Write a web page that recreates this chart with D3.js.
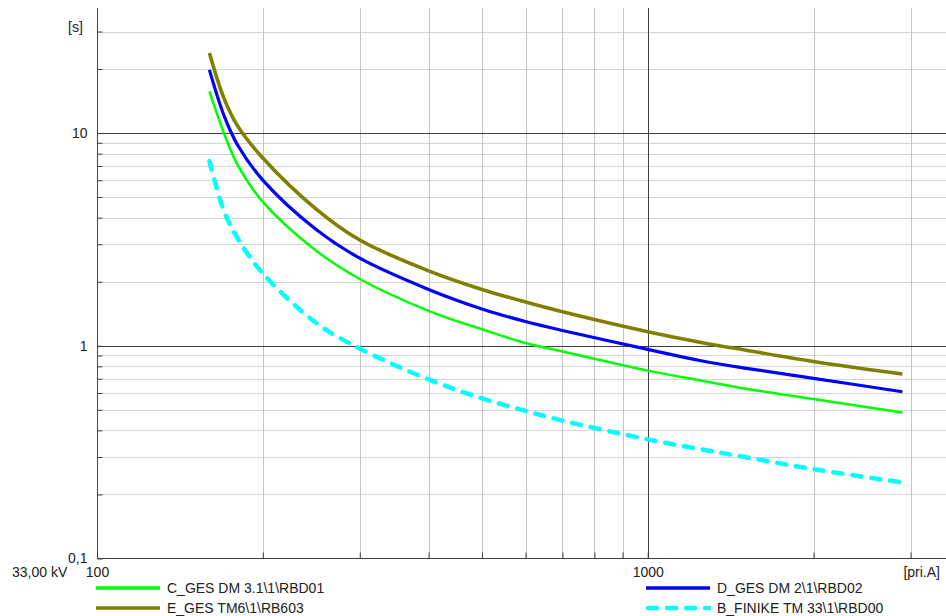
<!DOCTYPE html>
<html>
<head>
<meta charset="utf-8">
<script src="https://cdn.jsdelivr.net/npm/d3@7"></script>
<style>
  body { margin: 0; background: #fff; }
  text { font-family: "Liberation Sans", Arial, sans-serif; font-size: 14px; fill: #222; }
</style>
</head>
<body>
<svg id="chart" width="946" height="616"></svg>
<script>
// Current values [pri.A] where curves were read
const currents = [160, 170, 180, 200, 250, 300, 400, 500, 600, 700, 1000, 1250, 1500, 2000, 2900];

// Trip times [s] per relay
const timesC = [15.7, 10.0, 7.08, 4.75, 2.80, 2.06, 1.46, 1.195, 1.03, 0.94, 0.764, 0.686, 0.63, 0.562, 0.486];
const timesD = [19.8, 12.1, 8.78, 6.01, 3.52, 2.58, 1.84, 1.49, 1.30, 1.18, 0.962, 0.85, 0.785, 0.703, 0.608];
const timesE = [23.8, 14.6, 10.8, 7.63, 4.39, 3.14, 2.25, 1.84, 1.605, 1.445, 1.164, 1.036, 0.955, 0.844, 0.736];
const timesB = [7.38, 4.3, 3.2, 2.19, 1.28, 0.97, 0.695, 0.566, 0.494, 0.445, 0.363, 0.326, 0.300, 0.263, 0.228];

const seriesNames = ["C_GES DM 3.1\\1\\RBD01", "D_GES DM 2\\1\\RBD02", "E_GES TM6\\1\\RB603", "B_FINIKE TM 33\\1\\RBD00"];

// Grid / tick values
const xMinor = [200, 300, 400, 500, 600, 700, 800, 900, 2000, 3000];
const xMajor = [1000];
const xLabels = [100, 1000];
const yMinor = [0.2, 0.3, 0.4, 0.5, 0.6, 0.7, 0.8, 0.9, 2, 3, 4, 5, 6, 7, 8, 9, 20, 30];
const yMajor = [1, 10];
const yLabels = [0.1, 1, 10];

const series = [
  { name: seriesNames[0], values: timesC, color: "#00ff00", width: 2.5, dash: null },
  { name: seriesNames[1], values: timesD, color: "#0000ff", width: 3.2, dash: null },
  { name: seriesNames[2], values: timesE, color: "#808000", width: 3.6, dash: null },
  { name: seriesNames[3], values: timesB, color: "#00ffff", width: 4.5, dash: "9,10" }
];

// Plot area edges
const plot = { left: 97, right: 946, top: 8, bottom: 558.5 };

const x = d3.scaleLog().domain([100, 3480]).range([plot.left, plot.right]);
const y = d3.scaleLog().domain([0.1, 38.7]).range([plot.bottom, plot.top]);

const svg = d3.select("#chart");

// Minor gridlines
svg.append("g").selectAll("line").data(yMinor).join("line")
  .attr("x1", plot.left).attr("x2", plot.right)
  .attr("y1", d => Math.round(y(d)) + 0.5).attr("y2", d => Math.round(y(d)) + 0.5)
  .attr("stroke", "#d4d4d4");

svg.append("g").selectAll("line").data(xMinor).join("line")
  .attr("x1", d => Math.round(x(d)) + 0.5).attr("x2", d => Math.round(x(d)) + 0.5)
  .attr("y1", plot.top).attr("y2", plot.bottom)
  .attr("stroke", "#c4c4c4");

// Major gridlines
svg.append("g").selectAll("line").data(yMajor).join("line")
  .attr("x1", plot.left).attr("x2", plot.right)
  .attr("y1", d => Math.round(y(d)) + 0.5).attr("y2", d => Math.round(y(d)) + 0.5)
  .attr("stroke", "#404040");

svg.append("g").selectAll("line").data(xMajor).join("line")
  .attr("x1", d => Math.round(x(d)) + 0.5).attr("x2", d => Math.round(x(d)) + 0.5)
  .attr("y1", plot.top).attr("y2", plot.bottom)
  .attr("stroke", "#404040");

// Axes with inward ticks
const fmt = d => String(d).replace(".", ",");

const yAxis = svg.append("g")
  .attr("transform", `translate(${plot.left + 0.5},0)`)
  .call(d3.axisLeft(y).tickValues(yMinor.concat(yMajor, [0.1])).tickSize(-5).tickPadding(10)
    .tickFormat(d => yLabels.includes(d) ? fmt(d) : ""));
yAxis.select(".domain").attr("stroke", "#404040").attr("d", `M0,${plot.top}V${plot.bottom}`);
yAxis.selectAll(".tick line").attr("stroke", "#404040");
yAxis.selectAll("text").style("font-size", "14px").attr("fill", "#222");

const xAxis = svg.append("g")
  .attr("transform", `translate(0,${plot.bottom})`)
  .call(d3.axisBottom(x).tickValues(xMinor.concat(xMajor, [100])).tickSize(-6).tickPadding(8.5)
    .tickFormat(d => xLabels.includes(d) ? d : ""));
xAxis.select(".domain").attr("stroke", "#404040").attr("d", `M${plot.left},0H${plot.right}`);
xAxis.selectAll(".tick line").attr("stroke", "#404040");
xAxis.selectAll("text").style("font-size", "14px").attr("fill", "#222");

// Unit labels
svg.append("text").attr("x", 68).attr("y", 32).text("[s]");
svg.append("text").attr("x", 940).attr("y", 577).attr("text-anchor", "end").text("[pri.A]");
svg.append("text").attr("x", 12).attr("y", 577).text("33,00 kV");

// Curves
const line = d3.line()
  .x((d, i) => x(currents[i]))
  .y(d => y(d))
  .curve(d3.curveCatmullRom.alpha(0.5));

svg.append("g").selectAll("path").data(series).join("path")
  .attr("d", d => line(d.values))
  .attr("fill", "none")
  .attr("stroke", d => d.color)
  .attr("stroke-width", d => d.width)
  .attr("stroke-dasharray", d => d.dash)
  .attr("stroke-linecap", d => d.dash ? "round" : "butt");

// Legend
const legendPos = [
  { x: 96, y: 588 }, { x: 646, y: 588 }, { x: 96, y: 608 }, { x: 646, y: 608 }
];
const legend = svg.append("g").selectAll("g").data(series).join("g")
  .attr("transform", (d, i) => `translate(${legendPos[i].x},${legendPos[i].y})`);
legend.append("line")
  .attr("x1", d => d.dash ? 2 : 0).attr("x2", d => d.dash ? 63 : 64)
  .attr("stroke", d => d.color)
  .attr("stroke-width", d => d.dash ? 4.5 : 3.5)
  .attr("stroke-dasharray", d => d.dash)
  .attr("stroke-linecap", d => d.dash ? "round" : "butt");
legend.append("text")
  .attr("x", 71).attr("dy", "0.35em")
  .text(d => d.name);
</script>
</body>
</html>
